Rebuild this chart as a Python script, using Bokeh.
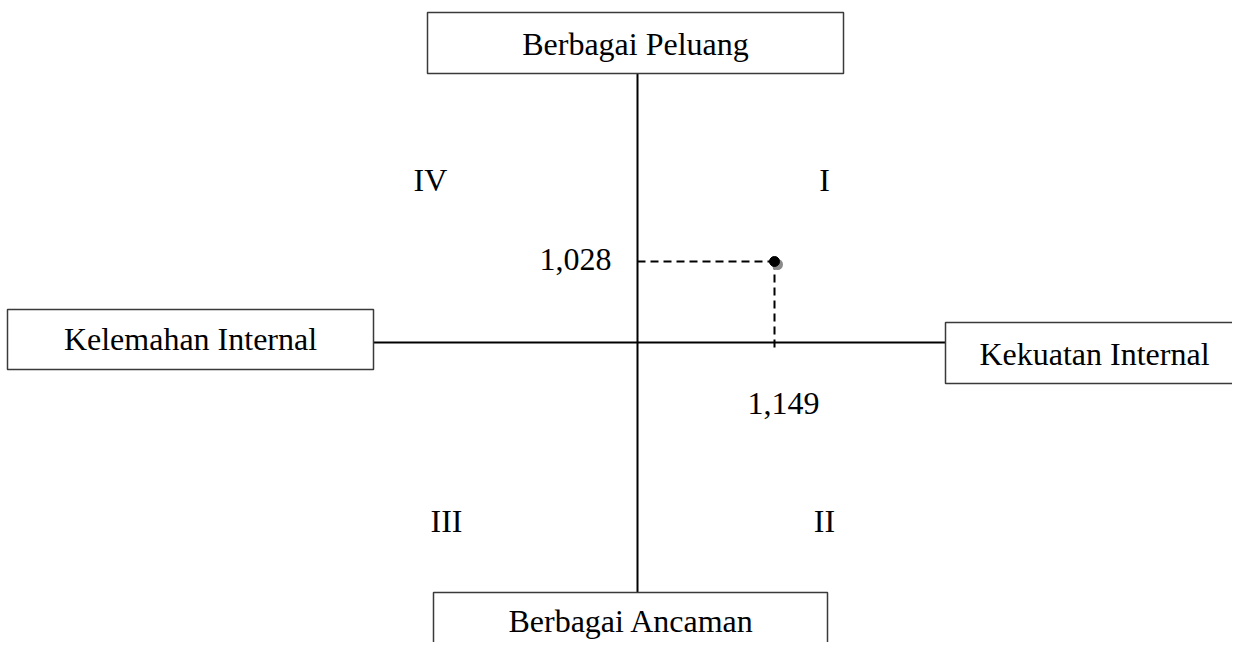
from bokeh.plotting import figure
from bokeh.models import Range1d
from bokeh.core.properties import value
from bokeh.embed import file_html
from bokeh.resources import INLINE

# ---- data ----
point_x = [1.149]          # Kekuatan (IFAS) score
point_y = [1.028]          # Peluang (EFAS) score
point_x_label = ["1,149"]
point_y_label = ["1,028"]
quadrants = ["I", "II", "III", "IV"]
box_labels = ["Berbagai Peluang", "Kelemahan Internal", "Kekuatan Internal", "Berbagai Ancaman"]

# ---- layout helpers (picture pixel -> data units) ----
CX, CY = 637.0, 342.0
KX = (774.0 - CX) / point_x[0]
KY = (CY - 261.0) / point_y[0]
TB = 12.0  # text baseline correction (px)

def sx(px):
    return (px - CX) / KX

def sy(py):
    return (CY - py) / KY

def ty(py):
    return sy(py - TB)

W, H = 1232, 642
p = figure(width=W, height=H, output_backend="svg", toolbar_location=None,
           x_range=Range1d(sx(0), sx(W)), y_range=Range1d(sy(H), sy(0)),
           min_border=0)
p.axis.visible = False
p.grid.visible = False
p.outline_line_color = None
p.background_fill_color = "white"
p.border_fill_color = "white"

FONT = value("Liberation Serif")

# axes lines
p.segment(x0=[sx(637), sx(373)], y0=[sy(73), sy(342)],
          x1=[sx(637), sx(945)], y1=[sy(592), sy(342)],
          line_color="black", line_width=2)

# boxes: top, left, right, bottom
lefts = [sx(427), sx(7), sx(945), sx(433)]
rights = [sx(843), sx(373), sx(1250), sx(827)]
tops = [sy(12), sy(309), sy(322), sy(592)]
bottoms = [sy(73), sy(369), sy(383), sy(680)]
p.quad(left=lefts, right=rights, top=tops, bottom=bottoms,
       fill_color="white", line_color="#3a3a3a", line_width=1.5)

p.text(x=[sx(635), sx(190), sx(1094), sx(631)],
       y=[ty(55), ty(350), ty(365), ty(632)],
       text=box_labels, text_font=FONT, text_font_size="32px",
       text_align="center", text_baseline="alphabetic", text_color="black")

# quadrant labels
p.text(x=[sx(824), sx(824), sx(446), sx(430)],
       y=[ty(191), ty(532), ty(532), ty(191)],
       text=quadrants, text_font=FONT, text_font_size="32px",
       text_align="center", text_baseline="alphabetic", text_color="black")

# dashed guide lines from axes to the point
p.segment(x0=[0], y0=point_y, x1=point_x, y1=point_y,
          line_color="black", line_width=2, line_dash="8 5")
p.segment(x0=point_x, y0=point_y, x1=point_x, y1=[sy(348)],
          line_color="black", line_width=2, line_dash="8 5")

# point with shadow
p.scatter(x=[point_x[0] + 3 / KX], y=[point_y[0] - 3 / KY], size=11,
          fill_color="#8a8a8a", line_color=None)
p.scatter(x=point_x, y=point_y, size=10, fill_color="black", line_color="black")

# value labels
p.text(x=[sx(575)], y=[point_y[0] - (10 - TB) / KY], text=point_y_label, text_font=FONT,
       text_font_size="32px", text_align="center", text_baseline="alphabetic")
p.text(x=[point_x[0] + 9 / KX], y=[ty(415)], text=point_x_label, text_font=FONT,
       text_font_size="32px", text_align="center", text_baseline="alphabetic")

open("out.html", "w").write(file_html(p, INLINE))
